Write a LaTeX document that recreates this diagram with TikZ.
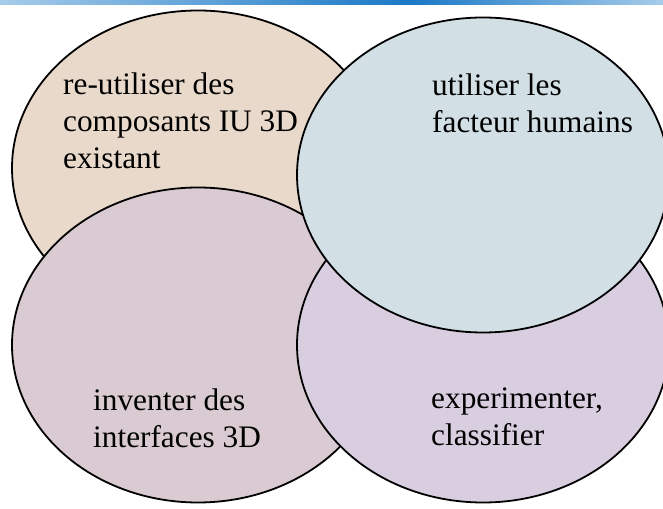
\documentclass[tikz,border=0pt]{standalone}
\usepackage{fontspec}
\setmainfont{Liberation Serif}
\usetikzlibrary{shapes.geometric}
\definecolor{sand}{HTML}{E8D9CB}
\definecolor{mist}{HTML}{D2DFE5}
\definecolor{rose}{HTML}{D9CBD1}
\definecolor{lilac}{HTML}{D9CEDF}
\definecolor{barlight}{HTML}{A6CCEA}
\definecolor{bardark}{HTML}{1A78C6}

\begin{document}
\begin{tikzpicture}[x=1pt,y=1pt,
 ell/.style={ellipse,draw=black,line width=1.8pt,minimum width=372pt,minimum height=315pt,inner sep=0pt},
 lbl/.style={anchor=base west,align=left,inner sep=0pt,font=\fontsize{31.3}{37}\selectfont}]
\useasboundingbox (0,0) rectangle (663,508);
\shade[left color=barlight,right color=bardark] (0,503) rectangle (410,508);
\shade[left color=bardark,right color=barlight] (410,503) rectangle (663,508);
\node[ell,fill=sand] (reuse) at (198,340) {};
\node[ell,fill=rose] (invent) at (198,163) {};
\node[ell,fill=lilac] (exper) at (483,163) {};
\node[ell,fill=mist] (human) at (483,333) {};
% base anchor sits on the last line
\node[lbl] (reusetxt) at (63,339) {re-utiliser des\\composants IU 3D\\existant};
\node[lbl] (humantxt) at (432,375) {utiliser les\\facteur humains};
\node[lbl] (inventtxt) at (93,60) {inventer des\\interfaces 3D};
\node[lbl] (expertxt) at (431,62) {experimenter,\\classifier};
\end{tikzpicture}
\end{document}
